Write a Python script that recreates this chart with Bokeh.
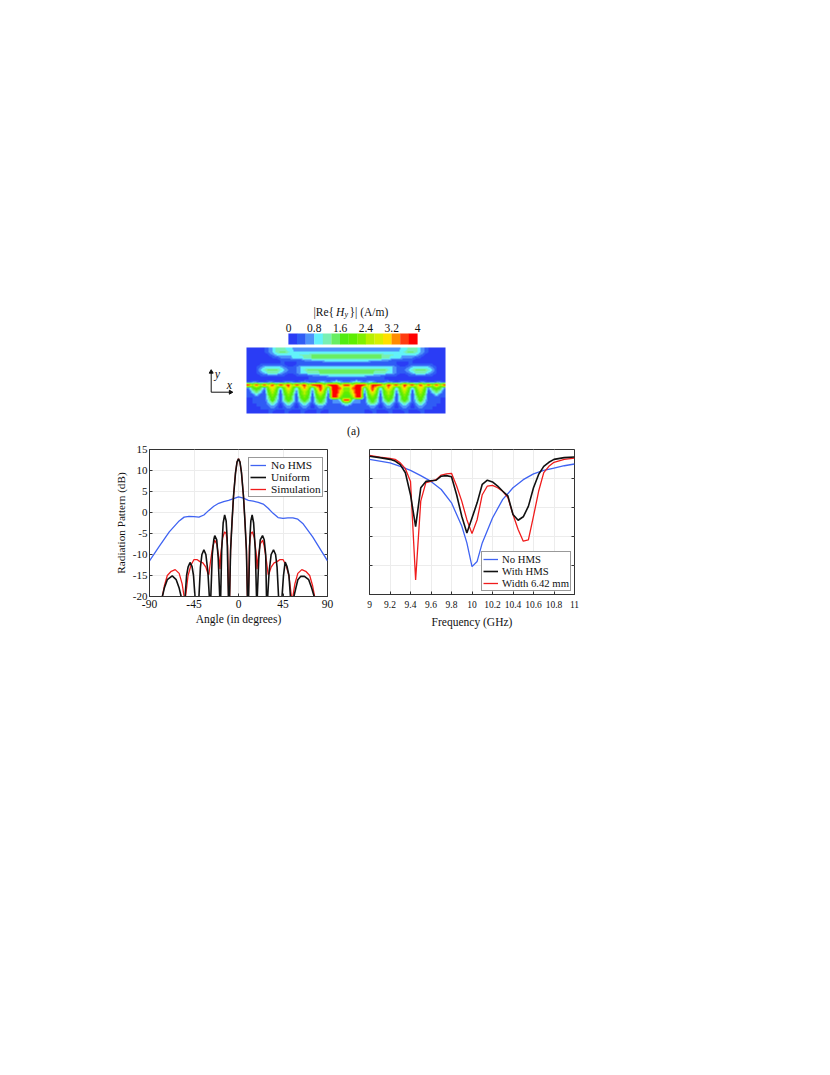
import numpy as np
from bokeh.plotting import figure
from bokeh.layouts import column, row
from bokeh.models import (Spacer, FixedTicker, Legend, LegendItem, Label,
                          LinearColorMapper, Range1d)
from bokeh.core.properties import value
from bokeh.embed import file_html
from bokeh.resources import INLINE

FONT = "Liberation Serif"
BLUE, BLACK, RED = "#3f63f2", "#111111", "#f01c1c"

# ---- (a) field map: left half of each row, level index 0..e, mirrored about the centre
field_left = [
 "0000123444332222222222222",
 "0000123455433333333333333",
 "0000012333333444555555555",
 "0000001122233344555555555",
 "0000000011111122222333333",
 "0001111111001111111111111",
 "0012333332112333333333333",
 "0013455543212345555555555",
 "0012344432112334445555555",
 "0001111111001111222233333",
 "0000000000000001111111111",
 "1221122112321232123323432",
 "e9e9eae9ebe9ebe9eee9eee9e",
 "267628b838c839c93aea4eed8",
 "146417a717a727a728d82eeb8",
 "124216961696179717a71eea7",
 "112115851585168616861ee86",
 "011114741575157515751224e",
 "0111135313531353146412225",
 "0011123202320232023211112",
 "0001112111211121112111111",
 "0000011001100110011011111",
]
level_colors = ["#2a3cf5", "#2f5cf5", "#4d93fa", "#62f2fa", "#78f0b4", "#68ee62", "#50ec10", "#5eee00",
                "#80f000", "#b8f000", "#d8f000", "#ffe000", "#ff8c00", "#ff3c10", "#ff0000"]
colorbar_ticks = [0, 0.8, 1.6, 2.4, 3.2, 4]

# ---- (b) radiation pattern
b_blue_x = [-90,-80,-70,-60,-55,-50,-45,-40,-35,-30,-25,-20,-15,-10,-5,0,5,10,15,20,25,30,35,40,45,50,55,60,65,70,75,80,85,90]
b_blue_y = [-11.5,-8,-4.6,-2,-1.1,-0.9,-1,-1.1,-0.6,0.5,1.5,2.2,2.6,2.9,3.3,3.7,3.4,2.9,2.7,2.4,2,1,-0.2,-1.2,-1.4,-1.3,-1.3,-1.6,-2.6,-4.2,-5.8,-7.7,-9.6,-11.5]
b_black_x = [-80,-77,-75,-72,-67,-63,-60,-58,-56,-54,-52.5,-51,-49,-47,-45.5,-44,-42,-40,-38.5,-37,-35,-33,-31,-29.5,-28.7,
             -28,-26.5,-25,-24,-22,-20.5,-19,-18.5,-18,-17,-15.5,-14,-12.5,-11.5,-10.2,-9.7,
             -9,-8,-6.5,-5,-3,-1.5,0,1.5,3,5,6.5,8,9,9.6,
             10.2,11.5,12.5,13.8,15.3,17,18.2,18.6,19,20.5,22,24.3,26,27.5,28.3,28.8,
             29.5,31,33,35.4,37.5,39,40.5,42,44,45.5,47.2,49,51,52.5,54,56,58,60,63,66.7,71,74,76.5,78,81]
b_black_y = [-30,-20,-18,-16,-15.1,-16,-18,-20,-30,-20,-15,-13,-11.9,-12.8,-15,-20,-30,-20,-13,-10,-8.9,-10,-14,-20,-30,
             -20,-10,-6.5,-5.5,-6.5,-11,-20,-30,-20,-9,-2.5,-0.6,-2,-6,-20,-30,
             -20,-9,-2,4,9.5,12,12.8,12,9.5,4,-2,-9,-20,-30,
             -20,-6,-2,-0.6,-2.5,-9,-20,-30,-20,-11,-6.5,-5.5,-6.5,-10,-20,-30,
             -20,-14,-10,-8.9,-10,-13,-20,-30,-20,-15,-11.8,-12.8,-15,-20,-30,-20,-18,-16,-15.2,-15.2,-16,-18,-20,-21.5,-30]
b_red_x = [-77,-75,-72,-68,-64,-60,-57,-55,-54,-53.5,-51,-48,-45,-42,-39,-36,-33,-31,-30,-28.5,-26,-24,-22,-20,-18.7,-18,-16,-14,-12.5,-11,-10,-9.5,
           -9,-8,-6.5,-5,-3,-1.5,0,1.5,3,5,6.5,8,9,9.5,
           10,11,12.5,14,16,18,18.7,20,22,24.5,26,28.5,30,31,33,36,39,42,45,48,51,53.5,54,55,57,60,64,68,72,75,77]
b_red_y = [-20,-17.5,-15,-14,-13.6,-14.5,-17,-20,-21,-20,-15,-12.5,-11.2,-11.2,-11.7,-12,-13,-14.5,-14.8,-12,-8,-6.6,-7.5,-10.5,-13.5,-10,-6,-4.6,-5,-8,-20,-26,
           -20,-9,-2,4,9.5,12,12.8,12,9.5,4,-2,-9,-20,-26,
           -20,-8,-5,-4.6,-6,-10,-13.5,-10.5,-7.5,-6.6,-8,-12,-14.8,-14.5,-13,-12,-11.7,-11.2,-11.2,-12.5,-15,-20,-21,-20,-17,-14.5,-13.6,-14,-15,-17.5,-20]
b_xticks = [-90, -45, 0, 45, 90]
b_yticks = [-20, -15, -10, -5, 0, 5, 10, 15]

# ---- (c) frequency response
c_blue_f = [9,9.2,9.3,9.4,9.5,9.6,9.7,9.8,9.9,9.95,10,10.05,10.1,10.2,10.3,10.4,10.5,10.6,10.7,10.8,10.9,11]
c_blue_y = [-1.7,-2.3,-2.9,-3.6,-4.5,-5.5,-6.9,-9.2,-13.2,-16.1,-20.2,-19.3,-16.1,-11.8,-8.6,-6.6,-5.2,-4.2,-3.6,-3.2,-2.8,-2.5]
c_freq = [9,9.1,9.2,9.25,9.3,9.35,9.4,9.45,9.5,9.55,9.6,9.65,9.7,9.75,9.8,9.85,9.9,9.95,10,10.05,10.1,10.15,10.2,10.25,10.3,10.35,10.4,10.45,10.5,10.55,10.6,10.65,10.7,10.75,10.8,10.9,11]
c_black_y = [-1.15,-1.4,-1.7,-2,-2.6,-4,-7.8,-13.3,-6.6,-5.5,-5.4,-5.3,-4.6,-4.5,-4.7,-7.8,-11.5,-14.4,-11.8,-9.2,-6,-5.3,-5.6,-6.3,-7.2,-8,-11.2,-12.2,-11.6,-9.8,-6.6,-4.3,-2.9,-2.2,-1.7,-1.4,-1.3]
c_red_y = [-1,-1.3,-1.55,-1.7,-2.3,-3.3,-5.5,-22.5,-8.9,-5.7,-5.5,-5.2,-4.4,-4.2,-4.1,-6.3,-8.9,-12.1,-14.5,-12.1,-7.8,-6.3,-6.2,-6.6,-7.2,-8.3,-11.2,-13.8,-15.8,-15.6,-11.5,-7.2,-4,-2.9,-2.2,-1.7,-1.5]
c_xticks = [9, 9.2, 9.4, 9.6, 9.8, 10, 10.2, 10.4, 10.6, 10.8, 11]
c_yticks = [-25, -20, -15, -10, -5, 0]


def txt(p, x, y, s, size="11.5px", style="normal", align="center", baseline="middle"):
    p.text([x], [y], text=[s], text_font=value(FONT), text_font_size=value(size), text_font_style=value(style),
           text_align=align, text_baseline=baseline, text_color="#111111")


# ---------- panel (a): ranges are page pixels for the annotation layout
pa = figure(width=260, height=140, x_range=Range1d(200, 460), y_range=Range1d(440, 300), toolbar_location=None,
            output_backend="svg", min_border=0, outline_line_color=None)
pa.axis.visible = False
pa.grid.visible = False
grid = np.array([[int(c, 16) for c in r] + [int(c, 16) for c in r[::-1]] for r in field_left], dtype=float)
gx = 246 + 4 * np.arange(grid.shape[1]) + 2
gy = 347 + 3 * np.arange(grid.shape[0]) + 1.5
fx = np.arange(246, 445) + .5
fy = np.arange(347, 413) + .5
tmp = np.array([np.interp(fy, gy, grid[:, i]) for i in range(grid.shape[1])]).T
fine = np.array([np.interp(fx, gx, tmp[j, :]) for j in range(len(fy))])
mapper = LinearColorMapper(palette=level_colors, low=0, high=14.5)
pa.image(image=[fine], x=246, y=347, dw=199, dh=66, color_mapper=mapper)
bar_w = 129 / len(level_colors)
pa.rect([288 + bar_w * (i + .5) for i in range(len(level_colors))], [338.5] * len(level_colors),
        width=bar_w + .2, height=11, fill_color=level_colors, line_color=None)
for t in colorbar_ticks:
    txt(pa, 288 + t / 4 * 129, 327, f"{t:g}")
txt(pa, 313, 311, "|Re{", align="left")
txt(pa, 335.5, 311, "H", style="italic", align="left")
txt(pa, 344, 313.5, "y", size="8px", style="italic", align="left")
txt(pa, 349, 311, "}| (A/m)", align="left")
pa.line([230.7, 210.7, 210.7], [391.7, 391.7, 371], line_color="#111111", line_width=1)
pa.scatter([230], [391.7], marker="triangle", angle=-np.pi / 2, size=4, color="#111111")
pa.scatter([210.7], [371.5], marker="triangle", size=4, color="#111111")
txt(pa, 217, 373, "y", style="italic", size="12px")
txt(pa, 229, 384, "x", style="italic", size="12px")
txt(pa, 353, 430, "(a)")


def style(p, xticks, yticks, xlabels, ylabels, xname, yname, xsize, xstand, labstand):
    ax = p.xaxis[0]
    ax.ticker = FixedTicker(ticks=xticks)
    ax.major_label_overrides = xlabels
    ax.axis_label = xname
    ay = p.yaxis[0]
    ay.ticker = FixedTicker(ticks=yticks)
    if yname:
        ay.axis_label = yname
        ay.major_label_overrides = ylabels
    else:
        ay.visible = False
    edges = [p.x_range.end] if yname else [p.x_range.start, p.x_range.end]
    for e in edges:
        p.scatter([e] * len(yticks), yticks, marker="dash", size=6, line_color="#333333", line_width=1)
    for a in (ax, ay):
        a.axis_label_text_font = FONT
        a.axis_label_text_font_style = "normal"
        a.axis_label_text_color = "#111111"
        a.major_label_text_font = FONT
        a.major_label_text_color = "#111111"
        a.major_tick_in = 3
        a.major_tick_out = 0
        a.minor_tick_line_color = None
        a.major_tick_line_color = "#333333"
        a.axis_line_color = "#333333"
    ax.axis_label_text_font_size = "11.5px"
    ax.axis_label_standoff = labstand
    ax.major_label_text_font_size = xsize
    ax.major_label_standoff = xstand
    ay.axis_label_text_font_size = "11.2px"
    ay.axis_label_standoff = 3
    ay.major_label_text_font_size = "11px"
    ay.major_label_standoff = 2
    p.xgrid[0].ticker = FixedTicker(ticks=xticks)
    p.ygrid[0].ticker = FixedTicker(ticks=yticks)
    p.grid.grid_line_color = "#ececec"
    p.grid.grid_line_width = 1
    p.outline_line_color = "#333333"
    p.outline_line_width = 1


def legend(p, items, loc, width, size, stand):
    lg = Legend(items=items, location=loc, label_text_font=FONT, label_text_font_size=size, label_text_color="#111111",
                glyph_width=width, glyph_height=10, label_height=10, spacing=0, padding=1, margin=0, label_standoff=stand,
                border_line_color="#333333", border_line_width=1.3, background_fill_alpha=1)
    p.add_layout(lg, "center")


# ---------- panel (b)
pb = figure(frame_width=178, frame_height=147, x_range=Range1d(-90, 90), y_range=Range1d(-20, 15), toolbar_location=None,
            output_backend="svg", min_border_left=49, min_border_top=9, min_border_right=18, min_border_bottom=64)
style(pb, b_xticks, b_yticks, {t: str(t) for t in b_xticks}, {t: str(t) for t in b_yticks},
      "Angle (in degrees)", "Radiation Pattern (dB)", "11.5px", 3, 2)
r1 = pb.line(b_blue_x, b_blue_y, line_color=BLUE, line_width=1.3)
r3 = pb.line(b_red_x, b_red_y, line_color=RED, line_width=1.3)
r2 = pb.line(b_black_x, b_black_y, line_color=BLACK, line_width=1.6)
legend(pb, [LegendItem(label="No HMS", renderers=[r1]), LegendItem(label="Uniform", renderers=[r2]),
            LegendItem(label="Simulation", renderers=[r3])], (99, 99), 16, "11.3px", 5)
pb.add_layout(Label(x=88, y=-48, x_units="screen", y_units="screen", text="(b)", text_font=FONT, text_font_size="11.5px",
                    text_align="center", text_baseline="middle", text_color="#111111"))

# ---------- panel (c)
pc = figure(frame_width=205, frame_height=145, x_range=Range1d(9, 11), y_range=Range1d(-25, 0), toolbar_location=None,
            output_backend="svg", min_border_left=24, min_border_top=9, min_border_right=20, min_border_bottom=66)
style(pc, c_xticks, c_yticks, {t: f"{t:g}" for t in c_xticks}, {}, "Frequency (GHz)", None, "9.5px", 6, 5)
q1 = pc.line(c_blue_f, c_blue_y, line_color=BLUE, line_width=1.3)
q3 = pc.line(c_freq, c_red_y, line_color=RED, line_width=1.3)
q2 = pc.line(c_freq, c_black_y, line_color=BLACK, line_width=1.6)
legend(pc, [LegendItem(label="No HMS", renderers=[q1]), LegendItem(label="With HMS", renderers=[q2]),
            LegendItem(label="Width 6.42 mm", renderers=[q3])], (112, 3), 15, "10.7px", 4)
pc.add_layout(Label(x=103, y=-52, x_units="screen", y_units="screen", text="(c)", text_font=FONT, text_font_size="11.5px",
                    text_align="center", text_baseline="middle", text_color="#111111"))

page = column(Spacer(height=300),
              row(Spacer(width=200), pa),
              row(Spacer(width=100), pb, pc),
              spacing=0)
open("out.html", "w").write(file_html(page, INLINE))
